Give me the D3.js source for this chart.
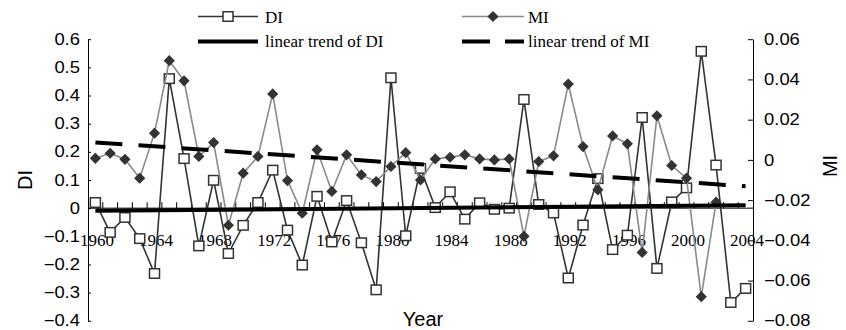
<!DOCTYPE html>
<html>
<head>
<meta charset="utf-8">
<script src="https://cdn.jsdelivr.net/npm/d3@7"></script>
<style>
  html, body { margin: 0; padding: 0; background: #fff; }
  svg { display: block; }
</style>
</head>
<body>
<svg id="chart" width="846" height="330"></svg>
<script>
// ---------- data ----------
const years = d3.range(1960, 2005);
const diValues = [0.02, -0.086, -0.033, -0.108, -0.232, 0.46, 0.176, -0.134, 0.099, -0.161,
  -0.061, 0.02, 0.135, -0.078, -0.202, 0.042, -0.12, 0.027, -0.123, -0.29,
  0.463, -0.098, 0.141, 0.002, 0.058, -0.039, 0.019, -0.004, 0.0, 0.386,
  0.013, -0.017, -0.248, -0.06, 0.105, -0.147, -0.096, 0.322, -0.214, 0.022,
  0.072, 0.557, 0.153, -0.335, -0.285];
const miValues = [0.0008, 0.0033, 0.0003, -0.0091, 0.0133, 0.0493, 0.0393, 0.0017, 0.0086, -0.0325,
  -0.0066, 0.0017, 0.0328, -0.0103, -0.0265, 0.005, -0.0157, 0.0025, -0.0075, -0.0108,
  -0.0033, 0.0036, -0.01, 0.0005, 0.0013, 0.0025, 0.0005, 0.0, 0.0005, -0.038,
  -0.0008, 0.002, 0.0377, 0.0066, -0.0149, 0.0119, 0.008, -0.046, 0.0219, -0.0028,
  -0.0091, -0.068, -0.021, null, null];
const trendYears = [1960, 2004];
const diTrend = [-0.0095, 0.0107];
const miTrend = [0.0087, -0.0131];
const leftTicks = [0.6, 0.5, 0.4, 0.3, 0.2, 0.1, 0, -0.1, -0.2, -0.3, -0.4];
const rightTicks = [0.06, 0.04, 0.02, 0, -0.02, -0.04, -0.06, -0.08];
const labelYears = [1960, 1964, 1968, 1972, 1976, 1980, 1984, 1988, 1992, 1996, 2000, 2004];

// ---------- layout ----------
const svg = d3.select("#chart");
const L = 88, R = 753, T = 39.2, B = 320.8;
const SANS = "'Liberation Sans', Arial, sans-serif";
const SERIF = "'Liberation Serif', 'Times New Roman', serif";
const SX = 1.15;

const x = d3.scaleBand().domain(years).range([L, R]).padding(0);
const cx = yr => x(yr) + x.bandwidth() / 2;
const yL = d3.scaleLinear().domain([-0.4, 0.6]).range([B, T]);
const yR = d3.scaleLinear().domain([-0.08, 0.06]).range([B, T]);

// ---------- axes ----------
const fmtL = d => d === 0 ? "0" : d3.format(".1f")(d);
const fmtR = d => d === 0 ? "0" : d3.format(".2f")(d);

const gL = svg.append("g").attr("transform", `translate(${L},0)`)
  .call(d3.axisLeft(yL).tickValues(leftTicks).tickFormat(fmtL).tickSize(-3).tickSizeOuter(0).tickPadding(7));
const gR = svg.append("g").attr("transform", `translate(${R},0)`)
  .call(d3.axisRight(yR).tickValues(rightTicks).tickFormat(fmtR).tickSize(-5).tickSizeOuter(0).tickPadding(9.6));
[gL, gR].forEach(g => {
  g.select(".domain").attr("stroke", "#000").attr("stroke-width", 1);
  g.selectAll(".tick line").attr("stroke", "#000");
  g.selectAll("text").attr("font-family", SANS).attr("font-size", 16).attr("fill", "#000")
    .attr("transform", `scale(${SX},1)`);
});

// x axis at DI = 0
const y0 = yL(0);
const gX = svg.append("g").attr("transform", `translate(0,${y0})`);
gX.append("line").attr("x1", L).attr("x2", R).attr("y1", 0).attr("y2", 0)
  .attr("stroke", "#000").attr("stroke-width", 1);
gX.selectAll("line.tk").data(years.slice(1)).join("line").attr("class", "tk")
  .attr("x1", d => x(d)).attr("x2", d => x(d)).attr("y1", 0).attr("y2", -6)
  .attr("stroke", "#000").attr("stroke-width", 1);
gX.selectAll("text.lb").data(labelYears).join("text").attr("class", "lb")
  .attr("x", d => cx(d) + 1.5).attr("y", 38)
  .attr("text-anchor", "middle")
  .attr("font-family", SERIF).attr("font-size", 17).attr("fill", "#000")
  .text(d => d);

// axis titles
svg.append("text").attr("transform", "translate(32,180) rotate(-90)")
  .attr("text-anchor", "middle").attr("font-family", SANS).attr("font-size", 20).text("DI");
svg.append("text").attr("transform", "translate(837,166) rotate(-90)")
  .attr("text-anchor", "middle").attr("font-family", SANS).attr("font-size", 20).text("MI");
svg.append("text").attr("x", 423).attr("y", 326)
  .attr("text-anchor", "middle").attr("font-family", SANS).attr("font-size", 20).text("Year");

// ---------- series ----------
const DI_COL = "#333333", MI_COL = "#8a8a8a", MK_COL = "#333333";
const diPts = years.map((yr, i) => ({ yr, v: diValues[i] }));
const miPts = years.map((yr, i) => ({ yr, v: miValues[i] })).filter(d => d.v !== null);

svg.append("path").datum(diPts)
  .attr("d", d3.line().x(d => cx(d.yr)).y(d => yL(d.v)))
  .attr("fill", "none").attr("stroke", DI_COL).attr("stroke-width", 1.6);
svg.selectAll("rect.sq").data(diPts).join("rect").attr("class", "sq")
  .attr("x", d => cx(d.yr) - 5).attr("y", d => yL(d.v) - 4.75)
  .attr("width", 10).attr("height", 9.5)
  .attr("fill", "#fff").attr("stroke", DI_COL).attr("stroke-width", 1.5);

const diamond = (px, py, r) => `M${px},${py - r}L${px + r},${py}L${px},${py + r}L${px - r},${py}Z`;
svg.append("path").datum(miPts)
  .attr("d", d3.line().x(d => cx(d.yr)).y(d => yR(d.v)))
  .attr("fill", "none").attr("stroke", MI_COL).attr("stroke-width", 1.6);
svg.selectAll("path.dm").data(miPts).join("path").attr("class", "dm")
  .attr("d", d => diamond(cx(d.yr), yR(d.v), 5.6))
  .attr("fill", MK_COL).attr("stroke", "none");

// trends
const diT = trendYears.map((yr, i) => ({ yr, v: diTrend[i] }));
const miT = trendYears.map((yr, i) => ({ yr, v: miTrend[i] }));
svg.append("path").datum(diT)
  .attr("d", d3.line().x(d => cx(d.yr)).y(d => yL(d.v)))
  .attr("stroke", "#000").attr("stroke-width", 4).attr("fill", "none");
svg.append("path").datum(miT)
  .attr("d", d3.line().x(d => cx(d.yr)).y(d => yR(d.v)))
  .attr("stroke", "#000").attr("stroke-width", 4).attr("fill", "none")
  .attr("stroke-dasharray", "27,16.2");

// ---------- legend ----------
const lg = svg.append("g");
lg.append("line").attr("x1", 198).attr("x2", 258).attr("y1", 16.5).attr("y2", 16.5)
  .attr("stroke", DI_COL).attr("stroke-width", 1.6);
lg.append("rect").attr("x", 223).attr("y", 11.75).attr("width", 10).attr("height", 9.5)
  .attr("fill", "#fff").attr("stroke", DI_COL).attr("stroke-width", 1.5);
lg.append("line").attr("x1", 198).attr("x2", 258).attr("y1", 41.5).attr("y2", 41.5)
  .attr("stroke", "#000").attr("stroke-width", 4);
lg.append("line").attr("x1", 462).attr("x2", 524).attr("y1", 16.5).attr("y2", 16.5)
  .attr("stroke", MI_COL).attr("stroke-width", 1.6);
lg.append("path").attr("d", diamond(493, 16.5, 5.6)).attr("fill", MK_COL);
lg.append("line").attr("x1", 462).attr("x2", 524).attr("y1", 41.5).attr("y2", 41.5)
  .attr("stroke", "#000").attr("stroke-width", 4).attr("stroke-dasharray", "28,15");
const legendTexts = [
  { t: "DI", x: 265, y: 22.5 },
  { t: "linear trend of DI", x: 265, y: 46.5 },
  { t: "MI", x: 528, y: 22.5 },
  { t: "linear trend of MI", x: 528, y: 46.5 }
];
lg.selectAll("text").data(legendTexts).join("text")
  .attr("x", d => d.x).attr("y", d => d.y)
  .attr("font-family", SERIF).attr("font-size", 17).attr("fill", "#000")
  .text(d => d.t);
</script>
</body>
</html>
